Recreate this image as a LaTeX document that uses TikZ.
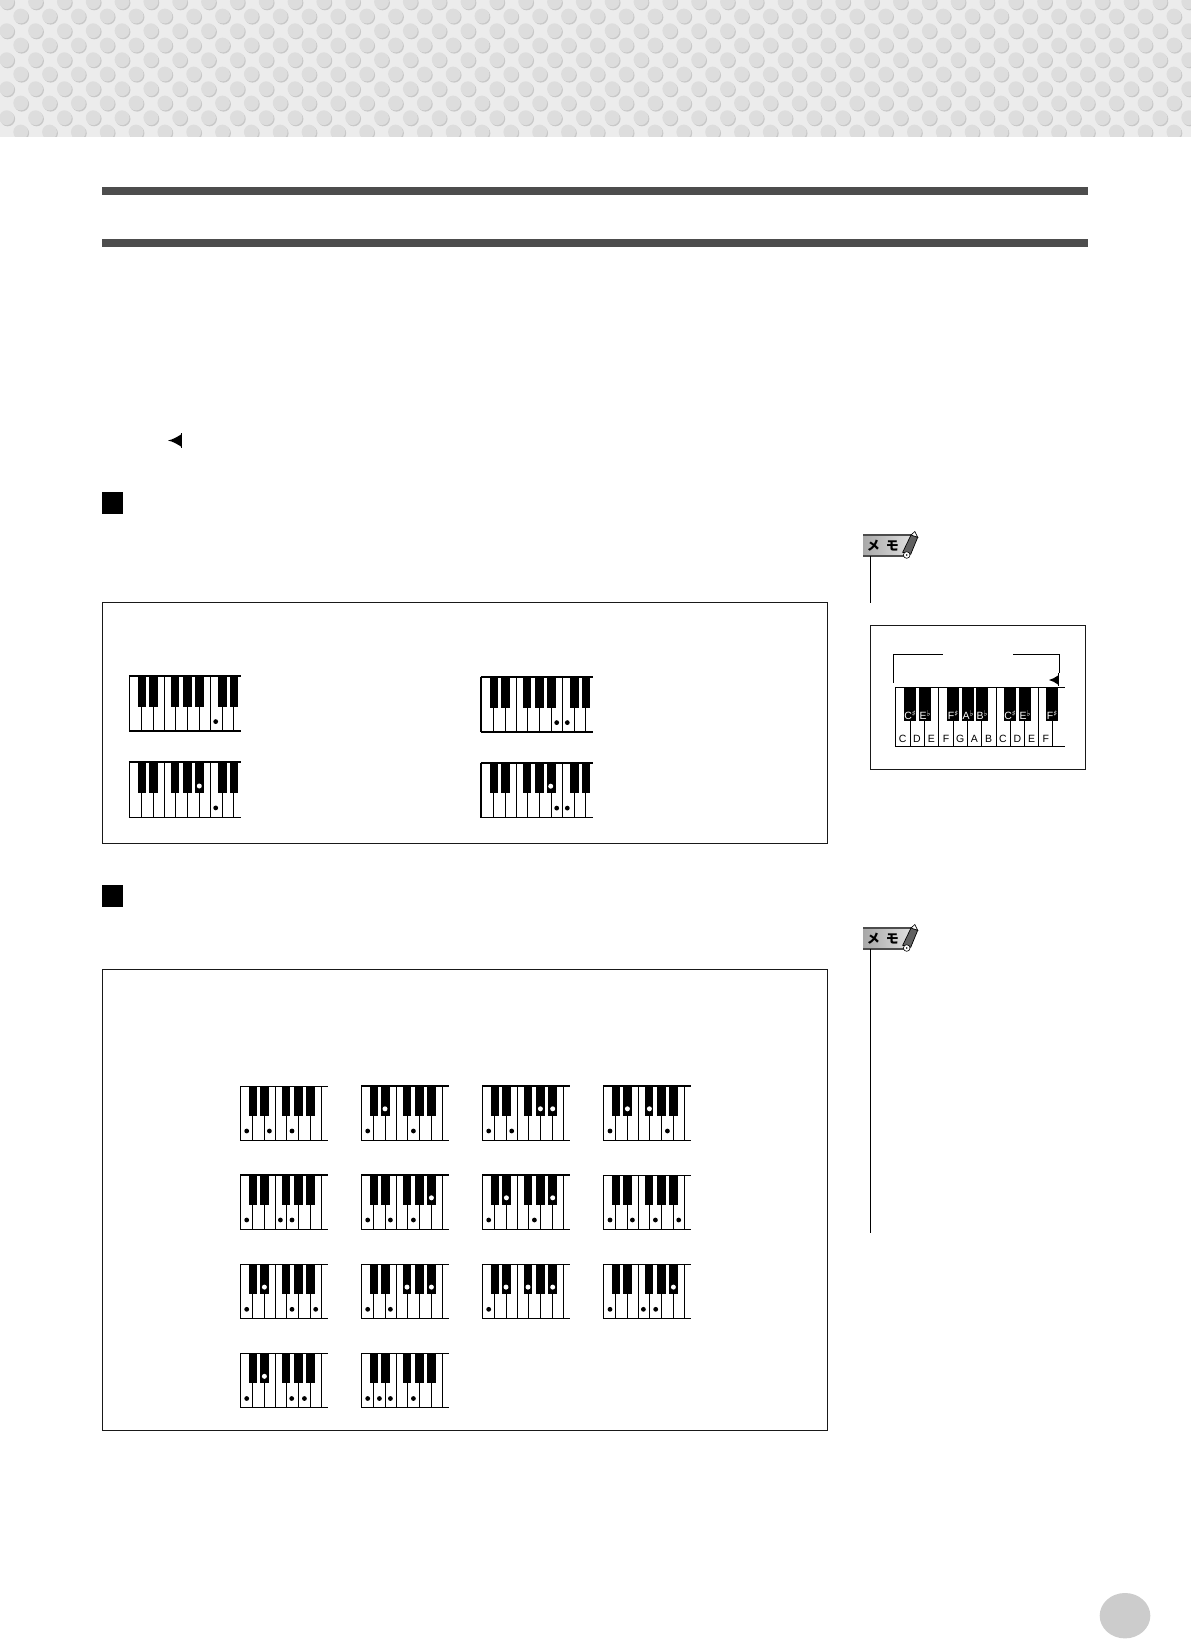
\documentclass[tikz,border=0pt]{standalone}
\usepackage{fontspec}
\setmainfont{Liberation Sans}
\newfontfamily\cjkfont{Noto Sans CJK JP}
\newfontfamily\symfont{DejaVu Sans}
\definecolor{bandbg}{HTML}{ECECEC}
\definecolor{dotface}{HTML}{DDDDDD}
\definecolor{dotshade}{HTML}{C8C8C8}
\definecolor{barcol}{HTML}{4D4D4D}
\definecolor{pagecirc}{HTML}{CCCCCC}
\tikzset{
  framebox/.style={draw=black!90,line width=0.9pt},
  rule/.style={draw=black,line width=1pt},
  sep/.style={draw=black,line width=1pt},
  blackdot/.style={fill=black},
  whitedot/.style={fill=white},
  wkey/.style={font=\fontsize{10.5}{11}\selectfont,text=black,inner sep=0pt},
  bkey/.style={font=\fontsize{10.5}{11}\selectfont,text=white,inner sep=0pt},
  memotxt/.style={font=\cjkfont\bfseries\fontsize{13}{13}\selectfont,text=black,inner sep=0pt}
}
% large keyboard: x, y, top width, bottom width, black-dot offsets, white-dot offsets
\newcommand{\kbL}[6]{%
  \begin{scope}[shift={(#1,#2)}]
    \foreach \s in {0,12,24,35,46,58,70,81.3,93,104.3}{\draw[sep] (\s,0) -- (\s,55);}
    \foreach \a/\b in {8.7/16.7,19.7/28.7,41.7/49.7,53.7/62.7,65.7/74.7,88.7/97.7,100.7/108.7}{\fill[black] (\a,0) rectangle (\b,30.7);}
    \draw[draw=black,line width=#3pt] (-0.5,0) -- (111.7,0);
    \draw[draw=black,line width=#4pt] (-0.5,55) -- (111.7,55);
    \foreach \d in {#5}{\ifx\d\empty\else\fill[blackdot] (\d,45.6) circle (2.4);\fi}
    \foreach \d in {#6}{\ifx\d\empty\else\fill[whitedot] (\d,23.7) circle (2.5);\fi}
  \end{scope}}
% small keyboard: same arguments
\newcommand{\kbS}[6]{%
  \begin{scope}[shift={(#1,#2)}]
    \foreach \s in {0,11.7,23.7,34.7,46,58,70,81}{\draw[sep] (\s,0) -- (\s,54.3);}
    \foreach \a/\b in {8.3/16.3,19.3/28.3,41.3/49.3,53.3/62.3,65.3/74.3}{\fill[black] (\a,0) rectangle (\b,29.7);}
    \draw[draw=black,line width=#3pt] (-0.5,0) -- (87.3,0);
    \draw[draw=black,line width=#4pt] (-0.5,54.3) -- (87.3,54.3);
    \foreach \d in {#5}{\ifx\d\empty\else\fill[blackdot] (\d,45) circle (2.4);\fi}
    \foreach \d in {#6}{\ifx\d\empty\else\fill[whitedot] (\d,22.8) circle (2.5);\fi}
  \end{scope}}
% memo icon: y of banner top
\newcommand{\memoicon}[1]{%
  \begin{scope}[shift={(0,#1)}]
    \shade[left color=black!34,right color=black!12] (863,0) -- (912,0) -- (905,21) -- (863,21) -- cycle;
    \draw[black!70,line width=1.4pt] (863,0) -- (912,0);
    \draw[black!70,line width=1.4pt] (863,21) -- (905,21);
    \filldraw[fill=black!62,draw=black,line width=0.7pt] (911,0) -- (917.7,2.3) -- (910.7,19.3) -- (902.7,17.3) -- cycle;
    \filldraw[fill=white,draw=black,line width=0.6pt] (911,0) -- (917.7,2.3) -- (914.8,-3.5) -- cycle;
    \filldraw[fill=white,draw=black,line width=0.6pt] (906.7,20) circle (3.3);
    \fill[black] (906.7,20) circle (0.9);
    \node[memotxt] (memome#1) at (873.3,11) {メ};
    \node[memotxt] (memomo#1) at (892.3,11) {モ};
  \end{scope}}
\begin{document}
\begin{tikzpicture}[x=1pt,y=-1pt]
\useasboundingbox (0,0) rectangle (1191,1639);
\fill[white] (0,0) rectangle (1191,1639);
% dotted band
\begin{scope}
  \clip (0,0) rectangle (1191,136.7);
  \fill[bandbg] (0,0) rectangle (1191,136.7);
  \foreach \r in {0,...,4}{
    \foreach \c in {0,...,41}{
      \pgfmathsetmacro{\xa}{6.7+28.83*\c}
      \pgfmathsetmacro{\ya}{1.7+29*\r}
      \pgfmathsetmacro{\xb}{20.7+28.83*\c}
      \pgfmathsetmacro{\yb}{16+29*\r}
      \fill[dotshade] (\xa+1,\ya+1.2) circle (7.4);
      \fill[dotface] (\xa,\ya) circle (7.4);
      \fill[dotshade] (\xb+1,\yb+1.2) circle (7.4);
      \fill[dotface] (\xb,\yb) circle (7.4);
    }
  }
\end{scope}
% heading bars
\fill[barcol] (102,187) rectangle (1088,195);
\fill[barcol] (102,239) rectangle (1088,247);
% arrow mark
\fill[black] (168,440.5) .. controls (173,439.5) and (177,437) .. (181,434.5) -- (181,446.5) .. controls (177,444) and (173,441.5) .. (168,440.5) -- cycle;
\draw[black,line width=1.2pt] (181.2,433) -- (181.2,448);
% section squares
\fill[black] (102,492) rectangle (123,514);
\fill[black] (102,885) rectangle (123,907);
% frames
\draw[framebox] (102.3,602.7) rectangle (827.5,843);
\draw[framebox] (102.3,969.7) rectangle (827.5,1430.5);
% large keyboards
\kbL{129.3}{676}{1.2}{2}{86.4}{}
\kbL{481}{677}{2}{1.2}{75.7,86.3}{}
\kbL{129.3}{762.3}{2}{1.1}{86.4}{70}
\kbL{481}{762.5}{2}{1.4}{75.7,86.3}{69.7}
\draw[black,line width=1.7pt] (481,677) -- (481,732);
\draw[black,line width=1.7pt] (481,762.5) -- (481,817.5);
% small keyboards
\kbS{240.7}{1086}{1}{1}{6,28.7,51.3}{}
\kbS{361.7}{1086}{2}{1}{6,51.7}{23.3}
\kbS{482.7}{1086}{1.5}{1}{6,29}{57.7,70}
\kbS{603.7}{1086}{1.5}{1}{6.3,63.7}{23.7,45.7}
\kbS{240.7}{1175}{2}{1}{6,39.7,51.3}{}
\kbS{361.7}{1175}{1.5}{1}{6,28.7,51.7}{69.7}
\kbS{482.7}{1175}{1.5}{1}{6,51.7}{23.7,70}
\kbS{603.7}{1175}{1}{1}{6.3,28.7,51.7,75}{}
\kbS{240.7}{1264.3}{1}{1}{6,51.3,75}{23.7}
\kbS{361.7}{1264.3}{1}{1}{6,28.7}{45.3,69.7}
\kbS{482.7}{1264.3}{1}{1}{6}{23.3,45.3,70}
\kbS{603.7}{1264.3}{1}{1}{6.3,39.7,52}{69.7}
\kbS{240.7}{1353.5}{1}{1}{6,51,63.7}{23.7}
\kbS{361.7}{1353.5}{1}{1}{6,17.7,28.7,51.7}{}
% memo icons and rules
\memoicon{535}
\memoicon{928}
\draw[rule] (870.3,556) -- (870.3,602.7);
\draw[rule] (870.3,949) -- (870.3,1233);
% note keyboard frame
\draw[framebox] (870.3,625.7) rectangle (1085.3,769.3);
\draw[rule] (893.3,682.7) -- (893.3,654.3) -- (942.7,654.3);
\draw[rule] (1013,654.3) -- (1059.3,654.3) -- (1059.3,673);
\fill[black] (1049,680) .. controls (1052,679.4) and (1055,677.5) .. (1058,675.5) -- (1058,684.5) .. controls (1055,682.5) and (1052,680.6) .. (1049,680) -- cycle;
\draw[black,line width=1pt] (1058.3,673) -- (1058.3,686);
\foreach \s in {895.7,910.3,924.3,938.3,953.3,967.3,981.3,996.3,1010.3,1024.3,1038.3,1052.3}{\draw[sep] (\s,687.3) -- (\s,746.3);}
\foreach \a in {904,919,947,962,976,1004,1019,1046}{\fill[black] (\a,687.3) rectangle (\a+12,720.7);}
\draw[rule] (895.3,687.3) -- (1065,687.3);
\draw[rule] (895.3,746.3) -- (1065,746.3);
\newcommand{\shp}{\raisebox{2.4pt}{\symfont\fontsize{8}{8}\selectfont ♯}}
\newcommand{\flt}{\raisebox{2.4pt}{\symfont\fontsize{8}{8}\selectfont ♭}}
\node[bkey] (bk1) at (910,715) {C\shp};
\node[bkey] (bk2) at (925,715) {E\flt};
\node[bkey] (bk3) at (953,715) {F\shp};
\node[bkey] (bk4) at (968,715) {A\flt};
\node[bkey] (bk5) at (982,715) {B\flt};
\node[bkey] (bk6) at (1010,715) {C\shp};
\node[bkey] (bk7) at (1025,715) {E\flt};
\node[bkey] (bk8) at (1052,715) {F\shp};
\foreach \xx/\tt [count=\i] in {902.7/C,917/D,931.3/E,946/F,960.3/G,974.3/A,988.7/B,1003/C,1017.3/D,1031.7/E,1045.7/F}{
  \node[wkey] (wk\i) at (\xx,739) {\tt};
}
% page-number disc
\fill[pagecirc] (1125,1615.7) ellipse (25.3 and 22.7);
\end{tikzpicture}
\end{document}
